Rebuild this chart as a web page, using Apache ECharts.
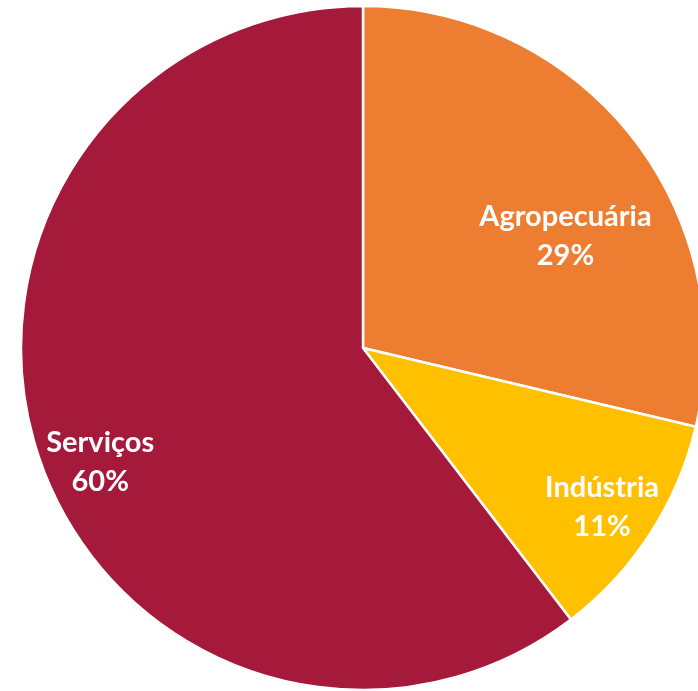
<!DOCTYPE html>
<html><head><meta charset="utf-8">
<script src="https://cdn.jsdelivr.net/npm/echarts@6/dist/echarts.min.js"></script>
<style>html,body{margin:0;padding:0;background:#fff}#c{width:698px;height:691px}</style>
</head><body><div id="c"></div>
<script>
const categories = ['Agropecuária', 'Indústria', 'Serviços'];
const values = [28.7, 10.9, 60.4];
const colors = ['#ED7D31', '#FFC000', '#A5193A'];
const labelShift = [[66, -4], [93, 65], [-98, 58]];

const chart = echarts.init(document.getElementById('c'), null, {renderer: 'canvas'});
chart.setOption({
  animation: false,
  series: [{
    type: 'pie',
    center: [363, 348],
    radius: 342,
    startAngle: 90,
    clockwise: true,
    data: categories.map((n, i) => ({name: n, value: values[i], itemStyle: {color: colors[i]}})),
    itemStyle: {borderColor: '#fff', borderWidth: 2.5},
    label: {
      show: true, position: 'inside', color: '#fff',
      fontFamily: 'Lato', fontWeight: 'bold', fontSize: 29, lineHeight: 39,
      formatter: p => p.name + '\n' + Math.round(p.percent) + '%'
    },
    labelLayout: p => ({dx: labelShift[p.dataIndex][0], dy: labelShift[p.dataIndex][1]}),
    emphasis: {disabled: true}
  }]
});
</script></body></html>
